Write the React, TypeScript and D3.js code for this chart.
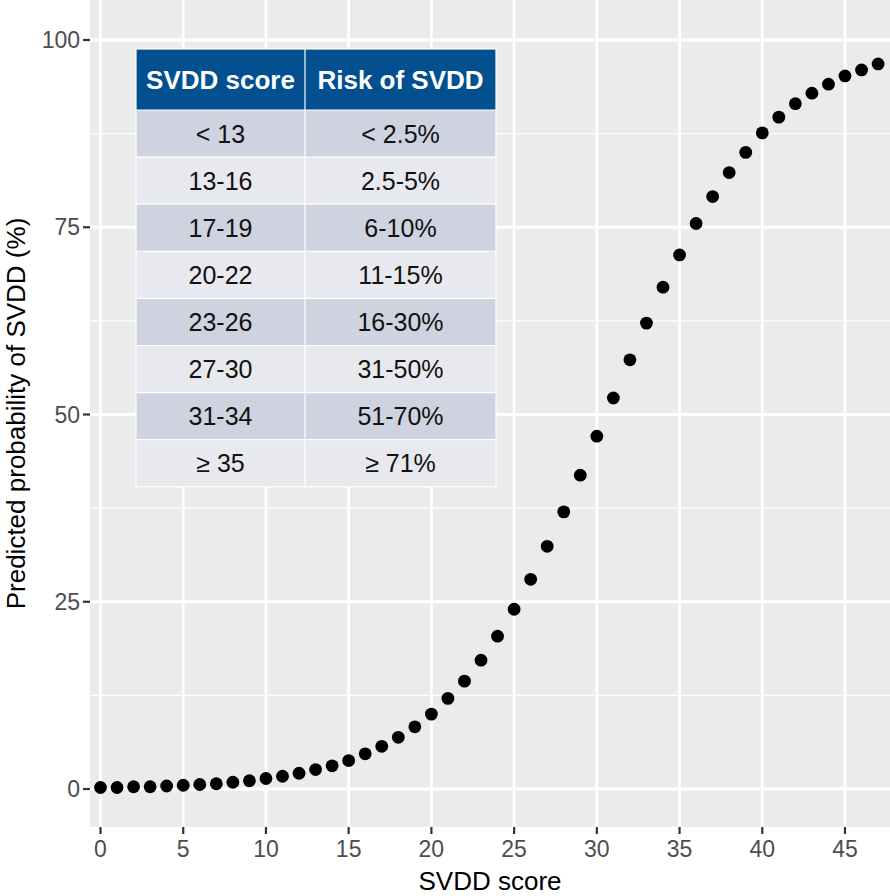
import React from "react";
import * as d3 from "d3";

const scores: number[] = [
  0, 1, 2, 3, 4, 5, 6, 7, 8, 9, 10, 11, 12, 13, 14, 15, 16, 17, 18, 19, 20, 21, 22, 23,
  24, 25, 26, 27, 28, 29, 30, 31, 32, 33, 34, 35, 36, 37, 38, 39, 40, 41, 42, 43, 44, 45, 46, 47,
];
const probabilities: number[] = [
  0.2, 0.2, 0.3, 0.3, 0.4, 0.5, 0.6, 0.7, 0.9, 1.1, 1.4, 1.7, 2.1, 2.6, 3.1, 3.8, 4.7, 5.7,
  6.9, 8.3, 10.0, 12.1, 14.4, 17.2, 20.4, 24.0, 28.0, 32.4, 37.0, 41.9, 47.1, 52.2, 57.3, 62.2,
  67.0, 71.3, 75.5, 79.1, 82.3, 85.0, 87.6, 89.7, 91.5, 92.9, 94.1, 95.2, 96.0, 96.8,
];
const xTicks: number[] = [0, 5, 10, 15, 20, 25, 30, 35, 40, 45];
const yTicks: number[] = [0, 25, 50, 75, 100];
const yMinor: number[] = [12.5, 37.5, 62.5, 87.5];

const tableHeader: string[] = ["SVDD score", "Risk of SVDD"];
const tableScores: string[] = ["< 13", "13-16", "17-19", "20-22", "23-26", "27-30", "31-34", "≥ 35"];
const tableRisks: string[] = ["< 2.5%", "2.5-5%", "6-10%", "11-15%", "16-30%", "31-50%", "51-70%", "≥ 71%"];

const FONT = "'Liberation Sans', Arial, Helvetica, sans-serif";

export default function App() {
  const W = 890;
  const H = 896;
  const panel = { left: 90, right: 890, top: 0, bottom: 827 };

  const x = d3.scaleLinear().domain([0, 45]).range([100.5, 845]);
  const y = d3.scaleLinear().domain([0, 100]).range([789, 40]);

  const tbl = { left: 136, mid: 305, right: 496, top: 49, headH: 61, rowH: 47.1 };

  return (
    <svg
      width={W}
      height={H}
      style={{ position: "absolute", left: 0, top: 0, background: "#fff" }}
      fontFamily={FONT}
    >
      <rect
        x={panel.left}
        y={panel.top}
        width={panel.right - panel.left}
        height={panel.bottom - panel.top}
        fill="#EBEBEB"
      />
      {yMinor.map((v) => (
        <line key={"ym" + v} x1={panel.left} x2={panel.right} y1={y(v)} y2={y(v)} stroke="#fff" strokeWidth={1.4} />
      ))}
      {yTicks.map((v) => (
        <line key={"yg" + v} x1={panel.left} x2={panel.right} y1={y(v)} y2={y(v)} stroke="#fff" strokeWidth={2.8} />
      ))}
      {xTicks.map((v) => (
        <line key={"xg" + v} x1={x(v)} x2={x(v)} y1={panel.top} y2={panel.bottom} stroke="#fff" strokeWidth={2.8} />
      ))}

      {/* table */}
      <g>
        <rect x={tbl.left} y={tbl.top} width={tbl.right - tbl.left} height={tbl.headH} fill="#02508F" />
        <text x={(tbl.left + tbl.mid) / 2} y={tbl.top + tbl.headH / 2 + 9.5} textAnchor="middle" fill="#fff" fontWeight="bold" fontSize={26}>
          {tableHeader[0]}
        </text>
        <text x={(tbl.mid + tbl.right) / 2} y={tbl.top + tbl.headH / 2 + 9.5} textAnchor="middle" fill="#fff" fontWeight="bold" fontSize={26}>
          {tableHeader[1]}
        </text>
        {tableScores.map((s, i) => {
          const ry = tbl.top + tbl.headH + i * tbl.rowH;
          const fill = i % 2 === 0 ? "#CED3DF" : "#E8E9EE";
          return (
            <g key={"row" + i}>
              <rect x={tbl.left} y={ry} width={tbl.right - tbl.left} height={tbl.rowH} fill={fill} />
              <text x={(tbl.left + tbl.mid) / 2} y={ry + tbl.rowH / 2 + 9} textAnchor="middle" fill="#111" fontSize={25}>
                {s}
              </text>
              <text x={(tbl.mid + tbl.right) / 2} y={ry + tbl.rowH / 2 + 9} textAnchor="middle" fill="#111" fontSize={25}>
                {tableRisks[i]}
              </text>
              <line x1={tbl.left} x2={tbl.right} y1={ry} y2={ry} stroke="#fff" strokeWidth={1.2} />
            </g>
          );
        })}
        <line
          x1={tbl.mid}
          x2={tbl.mid}
          y1={tbl.top}
          y2={tbl.top + tbl.headH + tableScores.length * tbl.rowH}
          stroke="#fff"
          strokeWidth={1.2}
        />
        <rect
          x={tbl.left}
          y={tbl.top}
          width={tbl.right - tbl.left}
          height={tbl.headH + tableScores.length * tbl.rowH}
          fill="none"
          stroke="#fff"
          strokeWidth={1.2}
        />
      </g>

      {/* points */}
      {scores.map((s, i) => (
        <circle key={"pt" + s} cx={x(s)} cy={y(probabilities[i])} r={6.4} fill="#000" />
      ))}

      {/* y axis */}
      {yTicks.map((v) => (
        <g key={"yt" + v}>
          <line x1={83} x2={panel.left} y1={y(v)} y2={y(v)} stroke="#333" strokeWidth={2.2} />
          <text x={80} y={y(v) + 8.2} textAnchor="end" fill="#4D4D4D" fontSize={23}>
            {v}
          </text>
        </g>
      ))}
      {/* x axis */}
      {xTicks.map((v) => (
        <g key={"xt" + v}>
          <line x1={x(v)} x2={x(v)} y1={panel.bottom} y2={panel.bottom + 7} stroke="#333" strokeWidth={2.2} />
          <text x={x(v)} y={857} textAnchor="middle" fill="#4D4D4D" fontSize={23}>
            {v}
          </text>
        </g>
      ))}

      <text x={(panel.left + panel.right) / 2} y={890} textAnchor="middle" fill="#000" fontSize={26}>
        SVDD score
      </text>
      <text
        transform={`translate(25, ${(panel.top + panel.bottom) / 2}) rotate(-90)`}
        textAnchor="middle"
        fill="#000"
        fontSize={26}
      >
        Predicted probability of SVDD (%)
      </text>
    </svg>
  );
}
